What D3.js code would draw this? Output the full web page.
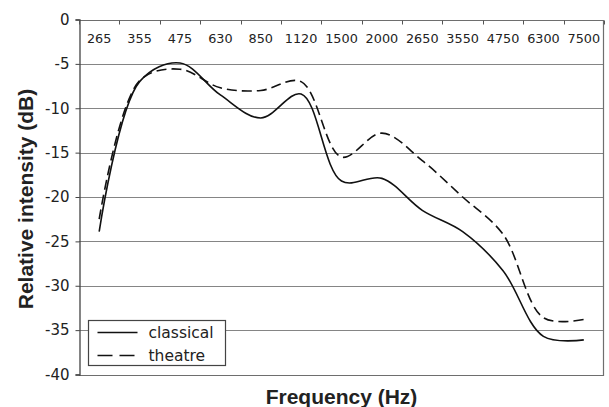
<!DOCTYPE html>
<html lang="en">
<head>
  <meta charset="UTF-8" />
  <title>Relative intensity by frequency</title>
  <script src="https://d3js.org/d3.v7.min.js"></script>
  <style>
    body { margin: 0; background: #fff; }
    svg { display: block; background: #fff; }
    .tick-label { font-family: "DejaVu Sans", sans-serif; fill: #222; }
    .axis-title { font-family: "Liberation Sans", Arial, sans-serif; font-weight: bold; font-size: 21px; fill: #222; }
    .legend text { font-family: "DejaVu Sans", sans-serif; font-size: 15.5px; fill: #222; }
  </style>
</head>
<body>

<svg width="609" height="407"></svg>

<script>
  // Données
  const frequencies = ["265", "355", "475", "630", "850", "1120", "1500", "2000", "2650", "3550", "4750", "6300", "7500"];
  const classical = [-23.9, -7.0, -4.9, -8.5, -11.1, -8.4, -18.2, -17.9, -21.5, -23.9, -28.3, -35.7, -36.1];
  const theatre   = [-22.5, -6.9, -5.6, -7.7, -8.0, -7.0, -15.5, -12.8, -15.9, -20.0, -24.2, -33.6, -33.8];
  const yTicks = [0, -5, -10, -15, -20, -25, -30, -35, -40];

  const svg = d3.select("svg"),
        margin = {top: 19.5, right: 5, bottom: 32.5, left: 79},
        W = +svg.attr("width"),
        H = +svg.attr("height");

  const x = d3.scaleBand()
              .domain(frequencies)
              .range([margin.left, W - margin.right])
              .padding(0);

  const y = d3.scaleLinear()
              .domain([-40, 0])
              .range([H - margin.bottom, margin.top]);

  // Grille horizontale
  svg.append("g")
     .selectAll("line")
     .data(yTicks.filter(d => d !== 0 && d !== -40))
     .join("line")
     .attr("x1", margin.left)
     .attr("x2", W - margin.right)
     .attr("y1", d => Math.round(y(d)) + 0.5)
     .attr("y2", d => Math.round(y(d)) + 0.5)
     .attr("stroke", "#858585")
     .attr("stroke-width", 1.2);

  // Cadre : haut, droite, bas
  const x0 = margin.left, x1 = W - margin.right;
  const yTop = Math.round(y(0)) + 0.5, yBot = Math.round(y(-40)) + 0.5;
  svg.append("path")
     .attr("d", `M${x0},${yTop}H${x1 - 0.5}V${yBot}H${x0}`)
     .attr("fill", "none")
     .attr("stroke", "#6e6e6e")
     .attr("stroke-width", 1.2);

  // Axe Y
  const yAxis = svg.append("g")
     .attr("transform", `translate(${x0 + 0.5},0)`)
     .call(d3.axisLeft(y).tickValues(yTicks).tickSize(4).tickPadding(6).tickFormat(d3.format("d")));
  yAxis.select(".domain").attr("stroke", "#444").attr("stroke-width", 1.3);
  yAxis.selectAll(".tick line").attr("stroke", "#444");
  yAxis.selectAll(".tick text")
       .attr("class", "tick-label")
       .style("font-size", "15px")
       .text(d => d === 0 ? "0" : "-" + Math.abs(d));

  // Axe des catégories en haut (y = 0), étiquettes sous la ligne
  const topG = svg.append("g");
  const bounds = frequencies.map(f => x(f)).concat([x1]);
  topG.selectAll("line")
      .data(bounds)
      .join("line")
      .attr("x1", d => Math.round(d) + 0.5)
      .attr("x2", d => Math.round(d) + 0.5)
      .attr("y1", yTop)
      .attr("y2", yTop + 4)
      .attr("stroke", "#555");
  topG.selectAll("text")
      .data(frequencies)
      .join("text")
      .attr("class", "tick-label")
      .attr("x", d => x(d) + x.bandwidth() / 2)
      .attr("y", yTop + 22)
      .attr("text-anchor", "middle")
      .style("font-size", "12.8px")
      .text(d => d);

  // Courbes
  const line = d3.line()
                 .x((d, i) => x(frequencies[i]) + x.bandwidth() / 2)
                 .y(d => y(d))
                 .curve(d3.curveCatmullRom.alpha(0.5));

  svg.append("path")
     .datum(classical)
     .attr("fill", "none")
     .attr("stroke", "#111")
     .attr("stroke-width", 1.6)
     .attr("d", line);

  svg.append("path")
     .datum(theatre)
     .attr("fill", "none")
     .attr("stroke", "#111")
     .attr("stroke-width", 1.6)
     .attr("stroke-dasharray", "10,5")
     .attr("d", line);

  // Titres des axes
  svg.append("text")
     .attr("class", "axis-title")
     .attr("x", (x0 + x1) / 2)
     .attr("y", H - 3)
     .attr("text-anchor", "middle")
     .text("Frequency (Hz)");

  svg.append("text")
     .attr("class", "axis-title")
     .attr("transform", `translate(33,${(y(0) + y(-40)) / 2 + 2}) rotate(-90)`)
     .attr("text-anchor", "middle")
     .text("Relative intensity (dB)");

  // Légende
  const legend = svg.append("g")
                    .attr("class", "legend")
                    .attr("transform", "translate(88.5,320.5)");
  legend.append("rect")
        .attr("width", 137)
        .attr("height", 45)
        .attr("fill", "#fff")
        .attr("stroke", "#444")
        .attr("stroke-width", 1.2);

  const series = [
    {name: "classical", dash: null},
    {name: "theatre", dash: "15,7"}
  ];
  series.forEach((s, i) => {
    legend.append("line")
          .attr("x1", 9)
          .attr("x2", 49)
          .attr("y1", 12 + i * 23)
          .attr("y2", 12 + i * 23)
          .attr("stroke", "#111")
          .attr("stroke-width", 1.6)
          .attr("stroke-dasharray", s.dash);
    legend.append("text")
          .attr("x", 60)
          .attr("y", 17 + i * 23)
          .text(s.name);
  });
</script>

</body>
</html>
